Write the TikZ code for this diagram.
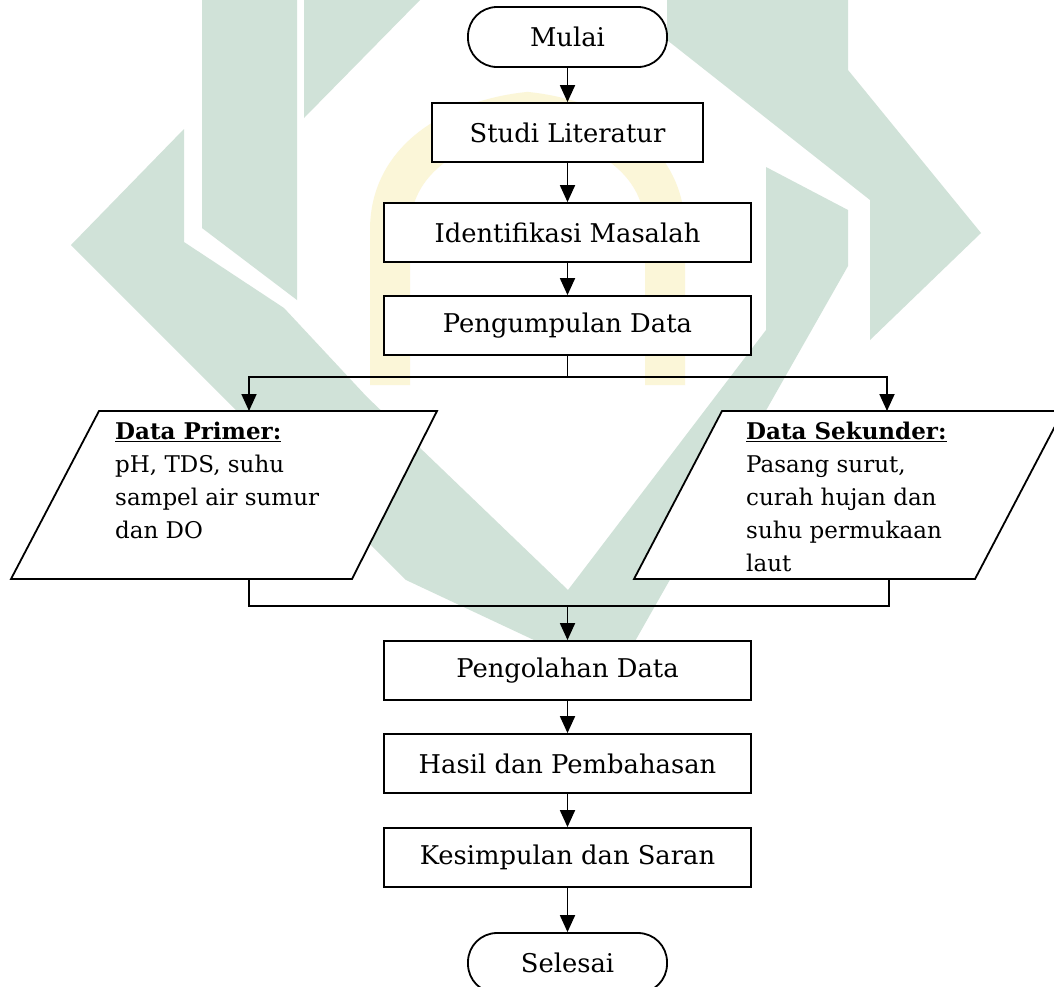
\documentclass[tikz,border=0pt]{standalone}
\usepackage{fontspec}
\setmainfont{DejaVu Serif}
\usetikzlibrary{arrows.meta}
\definecolor{wmgreen}{RGB}{208,226,216}
\definecolor{wmyellow}{RGB}{251,246,216}
\begin{document}
\begin{tikzpicture}[x=1pt,y=-1pt,
  box/.style={draw, line width=1.8pt, fill=white, minimum width=367pt, minimum height=59pt, inner sep=0pt, font=\fontsize{25.8}{30}\selectfont},
  term/.style={box, rounded corners=29pt, minimum width=199pt, minimum height=60pt},
  arr/.style={line width=1.8pt, -{Triangle[length=17pt,width=15pt]}},
  link/.style={line width=1.8pt},
  io/.style={draw, line width=1.8pt, fill=white, line join=miter},
  iotext/.style={inner sep=0pt, anchor=base west, font=\fontsize{23}{33}\selectfont},
  wmg/.style={fill=wmgreen},
  wmy/.style={draw=wmyellow, line width=40pt}
]
\clip (0,0) rectangle (1054,986);
\fill[white] (0,0) rectangle (1054,986);
% watermark
\draw[wmy] (390,385) -- (390,230) .. controls (390,150) and (470,118) .. (527.5,112) .. controls (585,118) and (665,150) .. (665,230) -- (665,385);
\fill[wmg] (202,0)--(297,0)--(297,300)--(202,228)--cycle;
\fill[wmg] (304,0)--(420,0)--(304,118)--cycle;
\fill[wmg] (71,245)--(184,129)--(184,242)--(284,308)--(367,397)--(568,590)--(766,330)--(766,167)--(848,210)--(848,266)--(630,650)--(568,656)--(406,580)--cycle;
\fill[wmg] (667,0)--(848,0)--(848,70)--(981,233)--(870,340)--(870,200)--(667,40)--cycle;
% flowchart
\node[term] (mulai) at (567.5,37) {Mulai};
\node[box, minimum width=271pt] (studi) at (567.5,132.5) {Studi Literatur};
\node[box] (ident) at (567.5,232.5) {Identifikasi Masalah};
\node[box] (kumpul) at (567.5,325.5) {Pengumpulan Data};
\draw[io] (99,411) -- (437,411) -- (352,579) -- (11,579) -- cycle;
\draw[io] (722,411) -- (1063,411) -- (975,579) -- (634,579) -- cycle;
\coordinate (ptop) at (249,411);
\coordinate (stop) at (887,411);
\coordinate (pbot) at (249,579);
\coordinate (sbot) at (889,579);
\coordinate (join) at (567.5,606);
\node[iotext] (ptext) at (115,439) {\parbox[t]{320pt}{\raggedright\underline{\textbf{Data Primer:}}\\pH, TDS, suhu\\sampel air sumur\\dan DO}};
\node[iotext] (stext) at (746,439) {\parbox[t]{300pt}{\raggedright\underline{\textbf{Data Sekunder:}}\\Pasang surut,\\curah hujan dan\\suhu permukaan\\laut}};
\node[box] (olah) at (567.5,670.5) {Pengolahan Data};
\node[box] (hasil) at (567.5,763.5) {Hasil dan Pembahasan};
\node[box] (simpul) at (567.5,857.5) {Kesimpulan dan Saran};
\node[term] (selesai) at (567.5,963) {Selesai};
\draw[arr] (mulai) -- (studi);
\draw[arr] (studi) -- (ident);
\draw[arr] (ident) -- (kumpul);
\draw[arr] (kumpul.south) -- ++(0,21) -| (ptop);
\draw[arr] (kumpul.south) -- ++(0,21) -| (stop);
\draw[link] (pbot) -- ++(0,27) -| (sbot);
\draw[arr] (join) -- (olah);
\draw[arr] (olah) -- (hasil);
\draw[arr] (hasil) -- (simpul);
\draw[arr] (simpul) -- (selesai);
\end{tikzpicture}
\end{document}
